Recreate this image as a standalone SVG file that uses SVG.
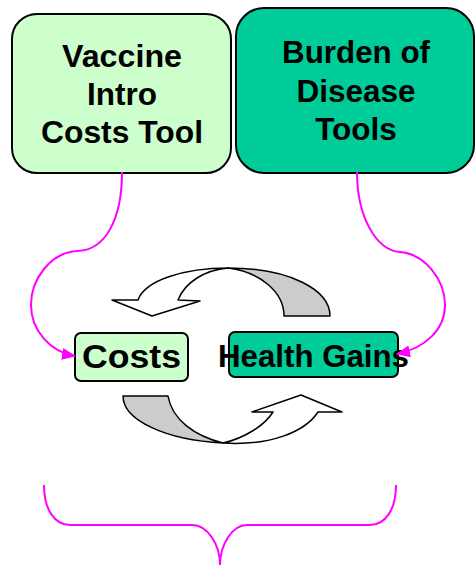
<svg xmlns="http://www.w3.org/2000/svg" width="475" height="567" viewBox="0 0 475 567">
<style>
.lbl{font-family:"Liberation Sans",Arial,sans-serif;font-weight:bold;fill:#000;text-anchor:middle}
.box{stroke:#000;stroke-width:2}
.light{fill:#ccffcc}
.dark{fill:#00cc99}
.band{stroke:#000;stroke-width:1.5;stroke-linejoin:round}
.conn{fill:none;stroke:#ff00ff;stroke-width:2}
</style>
<defs>
<marker id="ah" viewBox="0 0 14 12" refX="13" refY="6" markerWidth="14" markerHeight="12" markerUnits="userSpaceOnUse" orient="auto">
<path d="M0,0 L14,6 L0,12 Z" fill="#ff00ff"/>
</marker>
</defs>
<rect width="475" height="567" fill="#fff"/>
<g id="vaccine-tool">
<rect class="box light" x="12" y="14" width="219" height="159" rx="25"/>
<text class="lbl" font-size="31.5" x="122" y="67" textLength="120" lengthAdjust="spacingAndGlyphs">Vaccine</text>
<text class="lbl" font-size="31.5" x="122" y="105">Intro</text>
<text class="lbl" font-size="31.5" x="122" y="143" textLength="162" lengthAdjust="spacingAndGlyphs">Costs Tool</text>
</g>
<g id="burden-tools">
<rect class="box dark" x="236" y="8" width="238" height="165" rx="28"/>
<text class="lbl" font-size="31.5" x="356" y="63" textLength="148" lengthAdjust="spacingAndGlyphs">Burden of</text>
<text class="lbl" font-size="31.5" x="356" y="102">Disease</text>
<text class="lbl" font-size="31.5" x="356" y="140">Tools</text>
</g>
<g id="costs">
<rect class="box light" x="75" y="333" width="113" height="48" rx="6"/>
<text class="lbl" font-size="34" x="131.5" y="368" textLength="99" lengthAdjust="spacingAndGlyphs">Costs</text>
</g>
<g id="health-gains">
<rect class="box dark" x="229" y="332" width="169" height="45" rx="6"/>
<text class="lbl" font-size="31" x="313.5" y="367" textLength="191" lengthAdjust="spacingAndGlyphs">Health Gains</text>
</g>
<g id="cycle-arrows">
<path class="band" fill="#cccccc" d="M228,268 C290,268 330,290 330,316 L284,316 C284,292 260,272 228,268 Z"/>
<path class="band" fill="#fff" d="M112,300 L138,300 C145,280 185,268 228,268 C205,270 185,282 178,300 L200,301 L152,316 Z"/>
<path class="band" fill="#cccccc" d="M123,396 L168,396 C172,420 195,436 223,443 C165,440 123,420 123,396 Z"/>
<path class="band" fill="#fff" d="M223,443 C245,438 265,425 273,412 L252,412 L301,395 L342,412 L318,412 C305,432 270,446 223,443 Z"/>
</g>
<g id="connectors">
<path class="conn" marker-end="url(#ah)" d="M122,172 C122,220 105,250 78,251 C50,252 31,280 31,305 C31,330 50,352 75,356"/>
<path class="conn" marker-end="url(#ah)" d="M357,172 C357,215 375,250 400,252 C425,254 445,280 445,305 C445,330 425,348 397,354"/>
<path class="conn" d="M44,485 C44,510 55,525 70,525 L192,525 C208,525 220,545 220,565 C220,545 232,525 247,525 L370,525 C385,525 396,510 396,485"/>
</g>
</svg>
